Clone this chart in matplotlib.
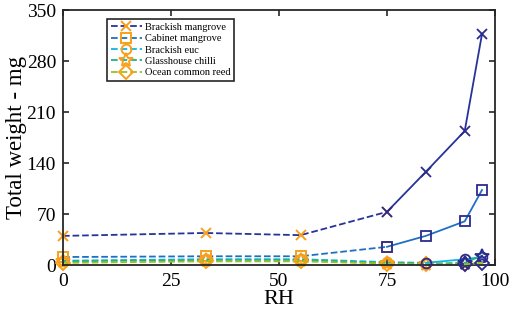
import matplotlib
matplotlib.use("Agg")
import matplotlib.pyplot as plt
import numpy as np

plt.rcParams['font.family'] = ['Liberation Serif', 'DejaVu Serif']

# RH values and weights (mg), dashed part then solid part
names = ["Brackish mangrove", "Cabinet mangrove", "Brackish euc",
         "Glasshouse chilli", "Ocean common reed"]
markers = ["x", "s", "o", "*", "D"]
line_cols = ["#27339a", "#1f6fc2", "#12b4e6", "#1fb08a", "#9cc21e"]
orange = "#f8a01c"
navy = "#2b2a8e"

dash_x = [[0, 33, 55, 75], [0, 33, 55, 75], [0, 33, 55, 75, 84],
          [0, 33, 55, 75, 84, 93], [0, 33, 55, 75, 84, 93]]
dash_y = [[40, 44, 41, 73], [11, 12, 12, 25], [6, 8, 8, 4, 3],
          [5, 7, 7, 3, 2, 3], [3, 5, 5, 2, 1, 1]]
solid_x = [[75, 84, 93, 97], [75, 84, 93, 97], [84, 93, 97],
           [93, 97], [93, 97]]
solid_y = [[73, 128, 184, 317], [25, 40, 60, 103], [3, 8, 11],
           [3, 13], [1, 3]]

xticks = [0, 25, 50, 75, 100]
yticks = [0, 70, 140, 210, 280, 350]

fig = plt.figure(figsize=(5.1, 3.24), dpi=100)
ax = fig.add_axes([0.1235, 0.182, 0.847, 0.787])

for i in range(len(names)):
    ax.plot(dash_x[i], dash_y[i], '--', color=line_cols[i], lw=1.3,
            marker=markers[i], ms=7 if markers[i] != '*' else 10,
            mfc='none', mec=orange, mew=1.4, label=names[i], zorder=2)
for i in range(len(names)):
    ax.plot(solid_x[i], solid_y[i], '-', color=line_cols[i], lw=1.3,
            marker=markers[i], ms=7 if markers[i] != '*' else 10,
            mfc='none', mec=navy, mew=1.3, zorder=3)

ax.set_xlim(0, 100)
ax.set_ylim(0, 350)
ax.set_xticks(xticks)
ax.set_yticks(yticks)
ax.tick_params(direction='in', top=True, right=True, labelsize=14,
               length=4, width=1.2, colors='#262626', labelcolor='black')
ax.tick_params(axis='x', pad=6)
ax.tick_params(axis='y', pad=5)
for s in ax.spines.values():
    s.set_linewidth(1.3)
    s.set_color('#262626')
for l in ax.get_lines():
    l.set_clip_on(False)
ax.set_xlabel("RH", fontsize=16, labelpad=0)
ax.set_ylabel("Total weight - mg", fontsize=16.5, labelpad=0)

leg = ax.legend(loc='upper left', bbox_to_anchor=(0.102, 0.965),
                borderaxespad=0, fontsize=7.5, fancybox=False,
                edgecolor='#262626', framealpha=1, handlelength=3.0,
                handletextpad=0.3, labelspacing=0.2, borderpad=0.35,
                markerscale=1.0)
leg.get_frame().set_linewidth(1.2)

fig.savefig("out.png", dpi=100)
